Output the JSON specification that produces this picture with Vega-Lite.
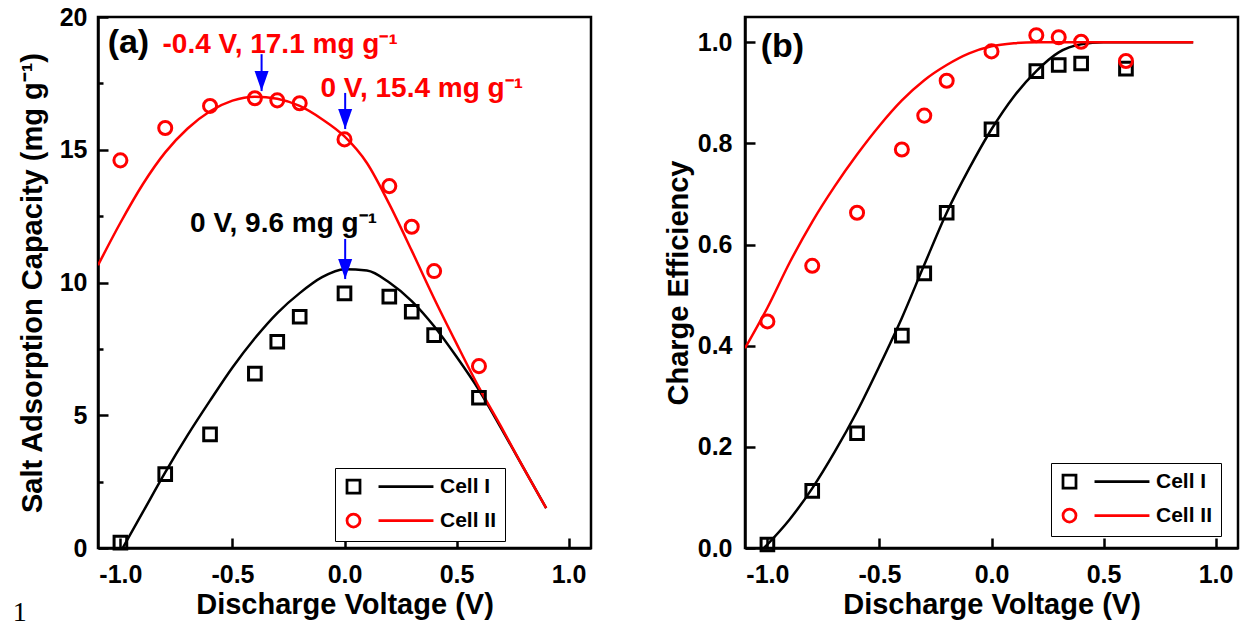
{
  "$schema": "https://vega.github.io/schema/vega-lite/v6.json",
  "padding": {"left": 11, "top": 3, "right": 0, "bottom": 0},
  "spacing": 69,
  "datasets": {
    "la": [
      {"v": -0.99, "q": 0, "cell": "Cell I"}, {"v": -0.9, "q": 1.35, "cell": "Cell I"}, {"v": -0.8, "q": 2.85, "cell": "Cell I"},
      {"v": -0.7, "q": 4.25, "cell": "Cell I"}, {"v": -0.6, "q": 5.55, "cell": "Cell I"}, {"v": -0.5, "q": 6.8, "cell": "Cell I"},
      {"v": -0.4, "q": 7.9, "cell": "Cell I"}, {"v": -0.3, "q": 8.85, "cell": "Cell I"}, {"v": -0.2, "q": 9.6, "cell": "Cell I"},
      {"v": -0.1, "q": 10.2, "cell": "Cell I"}, {"v": 0.0, "q": 10.5, "cell": "Cell I"}, {"v": 0.1, "q": 10.45, "cell": "Cell I"},
      {"v": 0.2, "q": 10.0, "cell": "Cell I"}, {"v": 0.3, "q": 9.3, "cell": "Cell I"}, {"v": 0.4, "q": 8.35, "cell": "Cell I"},
      {"v": 0.5, "q": 7.2, "cell": "Cell I"}, {"v": 0.6, "q": 5.95, "cell": "Cell I"}, {"v": 0.7, "q": 4.5, "cell": "Cell I"},
      {"v": 0.8, "q": 3.0, "cell": "Cell I"}, {"v": 0.9, "q": 1.5, "cell": "Cell I"},
      {"v": -1.1, "q": 10.65, "cell": "Cell II"}, {"v": -1.0, "q": 12.25, "cell": "Cell II"}, {"v": -0.9, "q": 13.7, "cell": "Cell II"},
      {"v": -0.8, "q": 14.9, "cell": "Cell II"}, {"v": -0.7, "q": 15.8, "cell": "Cell II"}, {"v": -0.6, "q": 16.45, "cell": "Cell II"},
      {"v": -0.5, "q": 16.85, "cell": "Cell II"}, {"v": -0.4, "q": 17.0, "cell": "Cell II"}, {"v": -0.3, "q": 16.92, "cell": "Cell II"},
      {"v": -0.2, "q": 16.65, "cell": "Cell II"}, {"v": -0.1, "q": 16.15, "cell": "Cell II"}, {"v": 0.0, "q": 15.5, "cell": "Cell II"},
      {"v": 0.1, "q": 14.5, "cell": "Cell II"}, {"v": 0.2, "q": 12.95, "cell": "Cell II"}, {"v": 0.3, "q": 11.2, "cell": "Cell II"},
      {"v": 0.4, "q": 9.4, "cell": "Cell II"}, {"v": 0.5, "q": 7.7, "cell": "Cell II"}, {"v": 0.6, "q": 6.05, "cell": "Cell II"},
      {"v": 0.7, "q": 4.55, "cell": "Cell II"}, {"v": 0.8, "q": 3.0, "cell": "Cell II"}, {"v": 0.9, "q": 1.5, "cell": "Cell II"}
    ],
    "pa": [
      {"v": -1.0, "q": 0.2, "cell": "Cell I"}, {"v": -0.8, "q": 2.78, "cell": "Cell I"}, {"v": -0.6, "q": 4.28, "cell": "Cell I"},
      {"v": -0.4, "q": 6.57, "cell": "Cell I"}, {"v": -0.3, "q": 7.77, "cell": "Cell I"}, {"v": -0.2, "q": 8.71, "cell": "Cell I"},
      {"v": 0.0, "q": 9.59, "cell": "Cell I"}, {"v": 0.2, "q": 9.47, "cell": "Cell I"}, {"v": 0.3, "q": 8.9, "cell": "Cell I"},
      {"v": 0.4, "q": 8.02, "cell": "Cell I"}, {"v": 0.6, "q": 5.66, "cell": "Cell I"},
      {"v": -1.0, "q": 14.6, "cell": "Cell II"}, {"v": -0.8, "q": 15.82, "cell": "Cell II"}, {"v": -0.6, "q": 16.65, "cell": "Cell II"},
      {"v": -0.4, "q": 16.94, "cell": "Cell II"}, {"v": -0.3, "q": 16.86, "cell": "Cell II"}, {"v": -0.2, "q": 16.75, "cell": "Cell II"},
      {"v": 0.0, "q": 15.39, "cell": "Cell II"}, {"v": 0.2, "q": 13.63, "cell": "Cell II"}, {"v": 0.3, "q": 12.1, "cell": "Cell II"},
      {"v": 0.4, "q": 10.43, "cell": "Cell II"}, {"v": 0.6, "q": 6.85, "cell": "Cell II"}
    ],
    "arr_a": [
      {"v": -0.37, "top": 18.6, "tip": 17.21},
      {"v": 0.003, "top": 17.14, "tip": 15.78},
      {"v": 0.003, "top": 11.64, "tip": 10.13}
    ],
    "ann_a": [
      {"v": -0.812, "q": 18.66, "label": "-0.4 V, 17.1 mg g⁻¹", "cell": "Cell II"},
      {"v": -0.107, "q": 16.99, "label": "0 V, 15.4 mg g⁻¹", "cell": "Cell II"},
      {"v": -0.689, "q": 11.91, "label": "0 V, 9.6 mg g⁻¹", "cell": "Cell I"}
    ],
    "tag_a": [{"v": -1.057, "q": 18.66, "label": "(a)"}],
    "stray": [{"v": -1.48, "q": -2.75, "label": "1"}],
    "lb": [
      {"v": -1.015, "ce": 0, "cell": "Cell I"}, {"v": -0.9, "ce": 0.057, "cell": "Cell I"}, {"v": -0.8, "ce": 0.118, "cell": "Cell I"},
      {"v": -0.7, "ce": 0.19, "cell": "Cell I"}, {"v": -0.6, "ce": 0.27, "cell": "Cell I"}, {"v": -0.5, "ce": 0.36, "cell": "Cell I"},
      {"v": -0.4, "ce": 0.455, "cell": "Cell I"}, {"v": -0.3, "ce": 0.56, "cell": "Cell I"}, {"v": -0.2, "ce": 0.663, "cell": "Cell I"},
      {"v": -0.1, "ce": 0.75, "cell": "Cell I"}, {"v": 0.0, "ce": 0.828, "cell": "Cell I"}, {"v": 0.1, "ce": 0.893, "cell": "Cell I"},
      {"v": 0.2, "ce": 0.943, "cell": "Cell I"}, {"v": 0.3, "ce": 0.98, "cell": "Cell I"}, {"v": 0.4, "ce": 0.996, "cell": "Cell I"},
      {"v": 0.5, "ce": 1.0, "cell": "Cell I"}, {"v": 0.7, "ce": 1.0, "cell": "Cell I"}, {"v": 0.9, "ce": 1.0, "cell": "Cell I"},
      {"v": -1.1, "ce": 0.395, "cell": "Cell II"}, {"v": -1.0, "ce": 0.475, "cell": "Cell II"}, {"v": -0.9, "ce": 0.565, "cell": "Cell II"},
      {"v": -0.8, "ce": 0.645, "cell": "Cell II"}, {"v": -0.7, "ce": 0.715, "cell": "Cell II"}, {"v": -0.6, "ce": 0.778, "cell": "Cell II"},
      {"v": -0.5, "ce": 0.835, "cell": "Cell II"}, {"v": -0.4, "ce": 0.885, "cell": "Cell II"}, {"v": -0.3, "ce": 0.925, "cell": "Cell II"},
      {"v": -0.2, "ce": 0.955, "cell": "Cell II"}, {"v": -0.1, "ce": 0.978, "cell": "Cell II"}, {"v": 0.0, "ce": 0.992, "cell": "Cell II"},
      {"v": 0.1, "ce": 0.998, "cell": "Cell II"}, {"v": 0.2, "ce": 1.0, "cell": "Cell II"}, {"v": 0.5, "ce": 1.0, "cell": "Cell II"},
      {"v": 0.9, "ce": 1.0, "cell": "Cell II"}
    ],
    "pb": [
      {"v": -1.0, "ce": 0.007, "cell": "Cell I"}, {"v": -0.8, "ce": 0.113, "cell": "Cell I"}, {"v": -0.6, "ce": 0.227, "cell": "Cell I"},
      {"v": -0.4, "ce": 0.42, "cell": "Cell I"}, {"v": -0.3, "ce": 0.543, "cell": "Cell I"}, {"v": -0.2, "ce": 0.663, "cell": "Cell I"},
      {"v": 0.0, "ce": 0.828, "cell": "Cell I"}, {"v": 0.2, "ce": 0.943, "cell": "Cell I"}, {"v": 0.3, "ce": 0.955, "cell": "Cell I"},
      {"v": 0.4, "ce": 0.958, "cell": "Cell I"}, {"v": 0.6, "ce": 0.948, "cell": "Cell I"},
      {"v": -1.0, "ce": 0.448, "cell": "Cell II"}, {"v": -0.8, "ce": 0.558, "cell": "Cell II"}, {"v": -0.6, "ce": 0.663, "cell": "Cell II"},
      {"v": -0.4, "ce": 0.788, "cell": "Cell II"}, {"v": -0.3, "ce": 0.855, "cell": "Cell II"}, {"v": -0.2, "ce": 0.924, "cell": "Cell II"},
      {"v": 0.0, "ce": 0.982, "cell": "Cell II"}, {"v": 0.2, "ce": 1.014, "cell": "Cell II"}, {"v": 0.3, "ce": 1.01, "cell": "Cell II"},
      {"v": 0.4, "ce": 1.001, "cell": "Cell II"}, {"v": 0.6, "ce": 0.963, "cell": "Cell II"}
    ],
    "tag_b": [{"v": -1.03, "ce": 0.97, "label": "(b)"}]
  },
  "hconcat": [
    {
      "width": 493,
      "height": 531,
      "encoding": {
        "x": {"field": "v", "type": "quantitative",
          "scale": {"domain": [-1.1, 1.1], "nice": false, "zero": false},
          "axis": {"values": [-1, -0.5, 0, 0.5, 1], "labelExpr": "replace(format(datum.value, '.1f'), '\u2212', '-')",
            "tickSize": -10, "labelPadding": 24, "titlePadding": 3, "title": "Discharge Voltage (V)"}},
        "y": {"field": "q", "type": "quantitative",
          "scale": {"domain": [0, 20], "nice": false},
          "axis": {"values": [0, 2.5, 5, 7.5, 10, 12.5, 15, 17.5, 20],
            "labelExpr": "datum.value % 5 === 0 ? format(datum.value, 'd') : ''",
            "tickSize": {"condition": {"test": "datum.value % 5 !== 0", "value": -5}, "value": -10},
            "labelPadding": 21, "titlePadding": 12, "title": "Salt Adsorption Capacity (mg g⁻¹)"}}
      },
      "layer": [
        {
          "data": {"name": "la"},
          "transform": [{"filter": "datum.cell === 'Cell I'"}],
          "mark": {"type": "line", "strokeWidth": 2.5, "interpolate": "monotone", "clip": true, "color": "#000000"},
          "encoding": {}
        },
        {
          "data": {"name": "la"},
          "transform": [{"filter": "datum.cell === 'Cell II'"}],
          "mark": {"type": "line", "strokeWidth": 2.5, "interpolate": "monotone", "clip": true, "color": "#FF0000"},
          "encoding": {}
        },
        {
          "data": {"name": "pa"},
          "transform": [{"filter": "datum.cell === 'Cell I'"}],
          "mark": {"type": "point", "shape": "square", "filled": false, "strokeWidth": 3, "size": 160, "opacity": 1, "color": "#000000"},
          "encoding": {}
        },
        {
          "data": {"name": "pa"},
          "transform": [{"filter": "datum.cell === 'Cell II'"}],
          "mark": {"type": "point", "shape": "circle", "filled": false, "strokeWidth": 3, "size": 170, "opacity": 1, "color": "#FF0000"},
          "encoding": {}
        },
        {
          "data": {"name": "pa"},
          "mark": {"type": "point", "filled": false, "strokeWidth": 2.75, "size": 169, "opacity": 0},
          "encoding": {
            "color": {"field": "cell", "type": "nominal",
              "scale": {"domain": ["Cell I", "Cell II"], "range": ["#000000", "#FF0000"]},
              "legend": {"orient": "none", "legendX": 237, "legendY": 451, "title": null,
                "symbolSize": 169, "symbolStrokeWidth": 2.75, "symbolOpacity": 1, "labelOffset": 76}},
            "shape": {"field": "cell", "type": "nominal",
              "scale": {"domain": ["Cell I", "Cell II"], "range": ["M-1,-1H1V1H-1Z M3.85,0H12.3", "M1,0A1,1,0,1,1,-1,0A1,1,0,1,1,1,0Z M3.85,0H12.3"]},
              "legend": {"orient": "none", "legendX": 237, "legendY": 451, "title": null,
                "symbolSize": 169, "symbolStrokeWidth": 2.75, "symbolOpacity": 1, "labelOffset": 76}}
          }
        },
        {
          "data": {"name": "arr_a"},
          "mark": {"type": "rule", "color": "#0000FF", "strokeWidth": 2},
          "encoding": {"y": {"field": "top", "type": "quantitative"}, "y2": {"field": "tip"}}
        },
        {
          "data": {"name": "arr_a"},
          "mark": {"type": "point", "shape": "M-0.7,-2L0,0L0.7,-2Z", "size": 400, "filled": true, "color": "#0000FF", "opacity": 1, "strokeWidth": 0},
          "encoding": {"y": {"field": "tip", "type": "quantitative"}}
        },
        {
          "data": {"name": "ann_a"},
          "transform": [{"filter": "datum.cell === 'Cell II'"}],
          "mark": {"type": "text", "align": "left", "baseline": "alphabetic", "font": "Liberation Sans", "fontWeight": "bold", "fontSize": 28, "color": "#FF0000"},
          "encoding": {"text": {"field": "label"}}
        },
        {
          "data": {"name": "ann_a"},
          "transform": [{"filter": "datum.cell === 'Cell I'"}],
          "mark": {"type": "text", "align": "left", "baseline": "alphabetic", "font": "Liberation Sans", "fontWeight": "bold", "fontSize": 28, "color": "#000000"},
          "encoding": {"text": {"field": "label"}}
        },
        {
          "data": {"name": "tag_a"},
          "mark": {"type": "text", "align": "left", "baseline": "alphabetic", "font": "Liberation Sans", "fontWeight": "bold", "fontSize": 34, "color": "#000000"},
          "encoding": {"text": {"field": "label"}}
        },
        {
          "data": {"name": "stray"},
          "mark": {"type": "text", "align": "left", "baseline": "alphabetic", "font": "Liberation Serif", "fontSize": 28, "color": "#000000"},
          "encoding": {"text": {"field": "label"}}
        }
      ]
    },
    {
      "width": 493,
      "height": 531,
      "encoding": {
        "x": {"field": "v", "type": "quantitative",
          "scale": {"domain": [-1.1, 1.1], "nice": false, "zero": false},
          "axis": {"values": [-1, -0.5, 0, 0.5, 1], "labelExpr": "replace(format(datum.value, '.1f'), '\u2212', '-')",
            "tickSize": -10, "labelPadding": 24, "titlePadding": 3, "title": "Discharge Voltage (V)"}},
        "y": {"field": "ce", "type": "quantitative",
          "scale": {"domain": [0, 1.05], "nice": false},
          "axis": {"values": [0, 0.2, 0.4, 0.6, 0.8, 1.0], "format": ".1f",
            "tickSize": -10, "labelPadding": 23, "titlePadding": 4, "title": "Charge Efficiency"}}
      },
      "layer": [
        {
          "data": {"name": "lb"},
          "transform": [{"filter": "datum.cell === 'Cell I'"}],
          "mark": {"type": "line", "strokeWidth": 2.5, "interpolate": "monotone", "clip": true, "color": "#000000"},
          "encoding": {}
        },
        {
          "data": {"name": "lb"},
          "transform": [{"filter": "datum.cell === 'Cell II'"}],
          "mark": {"type": "line", "strokeWidth": 2.5, "interpolate": "monotone", "clip": true, "color": "#FF0000"},
          "encoding": {}
        },
        {
          "data": {"name": "pb"},
          "transform": [{"filter": "datum.cell === 'Cell I'"}],
          "mark": {"type": "point", "shape": "square", "filled": false, "strokeWidth": 3, "size": 160, "opacity": 1, "color": "#000000"},
          "encoding": {}
        },
        {
          "data": {"name": "pb"},
          "transform": [{"filter": "datum.cell === 'Cell II'"}],
          "mark": {"type": "point", "shape": "circle", "filled": false, "strokeWidth": 3, "size": 170, "opacity": 1, "color": "#FF0000"},
          "encoding": {}
        },
        {
          "data": {"name": "pb"},
          "mark": {"type": "point", "filled": false, "strokeWidth": 2.75, "size": 169, "opacity": 0},
          "encoding": {
            "color": {"field": "cell", "type": "nominal",
              "scale": {"domain": ["Cell I", "Cell II"], "range": ["#000000", "#FF0000"]},
              "legend": {"orient": "none", "legendX": 306, "legendY": 446, "title": null,
                "symbolSize": 169, "symbolStrokeWidth": 2.75, "symbolOpacity": 1, "labelOffset": 76}},
            "shape": {"field": "cell", "type": "nominal",
              "scale": {"domain": ["Cell I", "Cell II"], "range": ["M-1,-1H1V1H-1Z M3.85,0H12.3", "M1,0A1,1,0,1,1,-1,0A1,1,0,1,1,1,0Z M3.85,0H12.3"]},
              "legend": {"orient": "none", "legendX": 306, "legendY": 446, "title": null,
                "symbolSize": 169, "symbolStrokeWidth": 2.75, "symbolOpacity": 1, "labelOffset": 76}}
          }
        },
        {
          "data": {"name": "tag_b"},
          "mark": {"type": "text", "align": "left", "baseline": "alphabetic", "font": "Liberation Sans", "fontWeight": "bold", "fontSize": 34, "color": "#000000"},
          "encoding": {"text": {"field": "label"}}
        }
      ]
    }
  ],
  "resolve": {
    "scale": {"x": "independent", "y": "independent", "color": "independent", "shape": "independent"},
    "legend": {"color": "independent", "shape": "independent"}
  },
  "config": {
    "font": "Liberation Sans",
    "view": {"stroke": "#000000", "strokeWidth": 2.5},
    "axis": {
      "grid": false, "domainColor": "#000000", "domainWidth": 2.5, "tickColor": "#000000", "tickWidth": 2.5,
      "labelFont": "Liberation Sans", "labelFontWeight": "bold", "labelFontSize": 25, "labelColor": "#000000",
      "titleFont": "Liberation Sans", "titleFontWeight": "bold", "titleFontSize": 29, "titleColor": "#000000"
    },
    "legend": {
      "labelFont": "Liberation Sans", "labelFontWeight": "bold", "labelFontSize": 21, "labelColor": "#000000",
      "strokeColor": "#000000", "strokeWidth": 1, "padding": 8, "rowPadding": 9, "fillColor": "#FFFFFF"
    }
  }
}
